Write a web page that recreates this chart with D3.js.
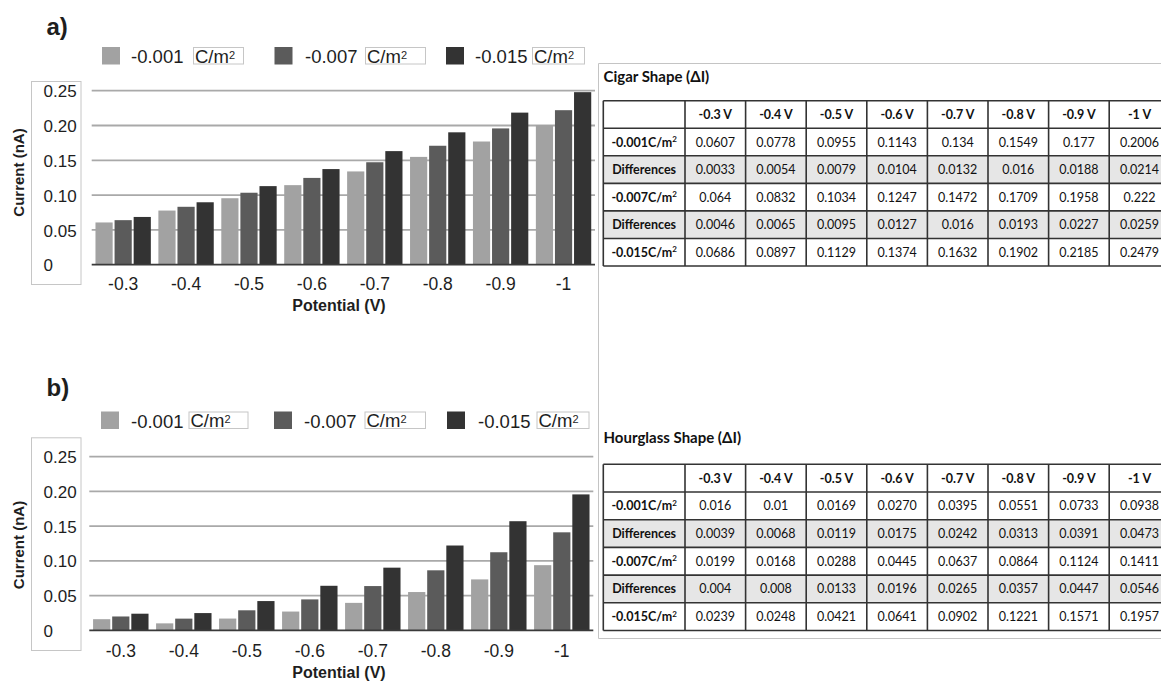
<!DOCTYPE html>
<html>
<head>
<meta charset="utf-8">
<script src="https://cdn.jsdelivr.net/npm/d3@7"></script>
<style>
  html, body { margin: 0; padding: 0; background: #fff; }
  svg { display: block; }
  .chart text { font-family: "Liberation Sans", Arial, Helvetica, sans-serif; fill: #1e1e1e; }
  .tbl text { font-family: Lato, "Open Sans", sans-serif; fill: #111; }
</style>
</head>
<body>
<svg id="fig" width="1161" height="681"></svg>
<script>
// ---- data ----
const potentials = ["-0.3", "-0.4", "-0.5", "-0.6", "-0.7", "-0.8", "-0.9", "-1"];
const densities = ["-0.001", "-0.007", "-0.015"];
const seriesColors = ["#a2a2a2", "#5b5b5b", "#333333"];
const yTicks = [0, 0.05, 0.10, 0.15, 0.20, 0.25];
const unitLabel = "C/m";

// Cigar-shaped pore: current change ΔI (nA), as printed in the table
const cigar001   = ["0.0607", "0.0778", "0.0955", "0.1143", "0.134",  "0.1549", "0.177",  "0.2006"];
const cigarDiff1 = ["0.0033", "0.0054", "0.0079", "0.0104", "0.0132", "0.016",  "0.0188", "0.0214"];
const cigar007   = ["0.064",  "0.0832", "0.1034", "0.1247", "0.1472", "0.1709", "0.1958", "0.222"];
const cigarDiff2 = ["0.0046", "0.0065", "0.0095", "0.0127", "0.016",  "0.0193", "0.0227", "0.0259"];
const cigar015   = ["0.0686", "0.0897", "0.1129", "0.1374", "0.1632", "0.1902", "0.2185", "0.2479"];

// Hourglass-shaped pore
const hour001   = ["0.016",  "0.01",   "0.0169", "0.0270", "0.0395", "0.0551", "0.0733", "0.0938"];
const hourDiff1 = ["0.0039", "0.0068", "0.0119", "0.0175", "0.0242", "0.0313", "0.0391", "0.0473"];
const hour007   = ["0.0199", "0.0168", "0.0288", "0.0445", "0.0637", "0.0864", "0.1124", "0.1411"];
const hourDiff2 = ["0.004",  "0.008",  "0.0133", "0.0196", "0.0265", "0.0357", "0.0447", "0.0546"];
const hour015   = ["0.0239", "0.0248", "0.0421", "0.0641", "0.0902", "0.1221", "0.1571", "0.1957"];

const svg = d3.select("#fig");
const color = d3.scaleOrdinal().domain(densities).range(seriesColors);

// ---- grouped bar chart ----
function drawChart(cfg, series) {
  const g = svg.append("g").attr("class", "chart");

  const x0 = d3.scaleBand().domain(potentials).range([cfg.left, cfg.right])
    .paddingInner(0.12).paddingOuter(0.06);
  const x1 = d3.scaleBand().domain(densities).range([0, x0.bandwidth()])
    .paddingInner(0.1).paddingOuter(0);
  const y = d3.scaleLinear().domain([0, 0.25]).range([cfg.base, cfg.top]);

  // panel letter
  g.append("text").attr("x", 46.5).attr("y", cfg.letterY)
    .attr("font-size", 24).attr("font-weight", "bold").text(cfg.letter);

  // legend
  densities.forEach((d, i) => {
    g.append("rect").attr("x", cfg.legSwatchX[i]).attr("y", cfg.legY)
      .attr("width", 18).attr("height", 17.5).attr("fill", color(d));
    g.append("text").attr("x", cfg.legTextX[i]).attr("y", cfg.legY + 16)
      .attr("font-size", 18.5).text(d);
    g.append("rect").attr("x", cfg.legBoxX[i] + 0.5).attr("y", cfg.legY + 0.5)
      .attr("width", cfg.legBoxW[i]).attr("height", 16.5)
      .attr("fill", "none").attr("stroke", "#c6c6c6").attr("stroke-width", 1);
    const u = g.append("text").attr("x", cfg.legBoxX[i] + 2).attr("y", cfg.legY + 15.5)
      .attr("font-size", 18.5).text(unitLabel);
    u.append("tspan").attr("font-size", 11).attr("dy", -4).text("2");
  });

  // frame round the value labels
  g.append("rect").attr("x", 31.5).attr("y", cfg.boxTop + 0.5)
    .attr("width", 49.5).attr("height", cfg.boxBottom - cfg.boxTop)
    .attr("fill", "none").attr("stroke", "#c6c6c6").attr("stroke-width", 1);

  // horizontal gridlines
  g.append("g").selectAll("line").data(yTicks.filter(t => t > 0)).join("line")
    .attr("x1", cfg.left).attr("x2", cfg.right)
    .attr("y1", d => y(d)).attr("y2", d => y(d))
    .attr("stroke", "#a9a9a9").attr("stroke-width", 1.8);

  // y axis labels
  const yAxis = d3.axisLeft(y).tickValues(yTicks).tickSize(0)
    .tickFormat(t => t === 0 ? "0" : d3.format(".2f")(t));
  const ya = g.append("g").call(yAxis)
    .attr("font-family", null).attr("font-size", 17);
  ya.select(".domain").remove();
  ya.selectAll("text").attr("text-anchor", "start").attr("x", 43.5).attr("dy", "0.36em")
    .attr("fill", "#1e1e1e");

  // bars
  const groups = g.append("g").selectAll("g").data(potentials).join("g")
    .attr("transform", p => `translate(${x0(p)},0)`);
  groups.selectAll("rect")
    .data((p, j) => densities.map((d, i) => ({ d, v: +series[i][j] })))
    .join("rect")
    .attr("x", e => x1(e.d)).attr("width", x1.bandwidth())
    .attr("y", e => y(e.v)).attr("height", e => y(0) - y(e.v))
    .attr("fill", e => color(e.d));

  // zero line
  g.append("line").attr("x1", cfg.left).attr("x2", cfg.right)
    .attr("y1", y(0)).attr("y2", y(0))
    .attr("stroke", "#3a3a3a").attr("stroke-width", 1.8);

  // x axis labels
  const xAxis = d3.axisBottom(x0).tickSize(0);
  const xa = g.append("g").attr("transform", `translate(0,${cfg.base})`).call(xAxis)
    .attr("font-family", null).attr("font-size", 17.5);
  xa.select(".domain").remove();
  xa.selectAll("text").attr("y", cfg.xLabelY - cfg.base).attr("dy", "0.35em").attr("fill", "#1e1e1e");

  // axis titles
  g.append("text").attr("x", cfg.xTitleX).attr("y", cfg.xTitleY)
    .attr("text-anchor", "middle").attr("font-size", 16).attr("font-weight", "bold")
    .text("Potential (V)");
  g.append("text")
    .attr("transform", `translate(18.5,${cfg.yTitleY}) rotate(-90)`)
    .attr("text-anchor", "middle").attr("dy", "0.35em")
    .attr("font-size", 15).attr("font-weight", "bold")
    .text("Current (nA)");
}

drawChart({
  letter: "a)", letterY: 35,
  left: 91.7, right: 595, base: 264.7, top: 90.7,
  legY: 47, legSwatchX: [102, 274.5, 446], legTextX: [131, 305, 475],
  legBoxX: [193, 365, 532], legBoxW: [50, 60, 52],
  boxTop: 81, boxBottom: 284,
  xLabelY: 284, xTitleX: 339, xTitleY: 311, yTitleY: 172.5
}, [cigar001, cigar007, cigar015]);

drawChart({
  letter: "b)", letterY: 396,
  left: 89.3, right: 593.3, base: 630.3, top: 456.7,
  legY: 411.5, legSwatchX: [101, 274, 447], legTextX: [131, 304, 478],
  legBoxX: [188.5, 364.5, 536.5], legBoxW: [59, 60.5, 52],
  boxTop: 437.3, boxBottom: 650,
  xLabelY: 650.7, xTitleX: 339, xTitleY: 678, yTitleY: 545
}, [hour001, hour007, hour015]);

// ---- data tables ----
const frame = svg.append("g");
frame.append("path")
  .attr("d", "M1161,63.5 H598.5 V638.5 H1161")
  .attr("fill", "none").attr("stroke", "#c4c4c4").attr("stroke-width", 1);

function drawTable(cfg, title, rows) {
  const g = svg.append("g").attr("class", "tbl");
  const firstW = 81.7, colW = 60.6, left = 603.3;
  const cx = d3.scaleBand().domain(potentials)
    .range([left + firstW, left + firstW + colW * potentials.length]);
  const ry = d3.scaleBand().domain(d3.range(rows.length + 1))
    .range([cfg.top, cfg.top + cfg.rowH * (rows.length + 1)]);
  const right = left + firstW + colW * potentials.length;

  g.append("text").attr("x", 603.5).attr("y", cfg.titleY)
    .attr("font-size", 15).attr("font-weight", "bold").text(title);

  // shaded rows
  rows.forEach((r, i) => {
    g.append("rect").attr("x", left).attr("y", ry(i + 1))
      .attr("width", right - left).attr("height", ry.bandwidth())
      .attr("fill", r.shade ? "#e6e6e6" : "#fff");
  });

  // grid
  const hLines = d3.range(rows.length + 2).map(i => cfg.top + i * cfg.rowH);
  g.append("g").selectAll("line").data(hLines).join("line")
    .attr("x1", left).attr("x2", right).attr("y1", d => d).attr("y2", d => d)
    .attr("stroke", "#333").attr("stroke-width", 1.6);
  const vLines = [left].concat(potentials.map(p => cx(p)), [right]);
  g.append("g").selectAll("line").data(vLines).join("line")
    .attr("x1", d => d).attr("x2", d => d)
    .attr("y1", cfg.top).attr("y2", hLines[hLines.length - 1])
    .attr("stroke", "#333").attr("stroke-width", 1.6);

  const midY = i => ry(i) + ry.bandwidth() / 2;
  const firstX = left + firstW / 2;

  // header row
  g.append("g").selectAll("text").data(potentials).join("text")
    .attr("x", p => cx(p) + cx.bandwidth() / 2).attr("y", midY(0)).attr("dy", "0.36em")
    .attr("text-anchor", "middle").attr("font-size", 12.5).attr("font-weight", "bold")
    .text(p => p + " V");

  rows.forEach((r, i) => {
    const t = g.append("text").attr("x", firstX).attr("y", midY(i + 1)).attr("dy", "0.36em")
      .attr("text-anchor", "middle").attr("font-size", 12.5).attr("font-weight", "bold");
    if (r.unit) {
      t.text(r.head + unitLabel);
      t.append("tspan").attr("font-size", 8).attr("dy", -4.5).text("2");
    } else {
      t.text(r.head);
    }
    g.append("g").selectAll("text").data(r.vals).join("text")
      .attr("x", (v, j) => cx(potentials[j]) + cx.bandwidth() / 2)
      .attr("y", midY(i + 1)).attr("dy", "0.36em")
      .attr("text-anchor", "middle").attr("font-size", 12.5)
      .text(v => v);
  });
}

drawTable({ top: 100.7, rowH: 27.55, titleY: 81.5 }, "Cigar Shape (\u0394I)", [
  { head: densities[0], unit: true, vals: cigar001 },
  { head: "Differences", vals: cigarDiff1, shade: true },
  { head: densities[1], unit: true, vals: cigar007 },
  { head: "Differences", vals: cigarDiff2, shade: true },
  { head: densities[2], unit: true, vals: cigar015 }
]);

drawTable({ top: 464.3, rowH: 27.7, titleY: 443 }, "Hourglass Shape (\u0394I)", [
  { head: densities[0], unit: true, vals: hour001 },
  { head: "Differences", vals: hourDiff1, shade: true },
  { head: densities[1], unit: true, vals: hour007 },
  { head: "Differences", vals: hourDiff2, shade: true },
  { head: densities[2], unit: true, vals: hour015 }
]);
</script>
</body>
</html>
